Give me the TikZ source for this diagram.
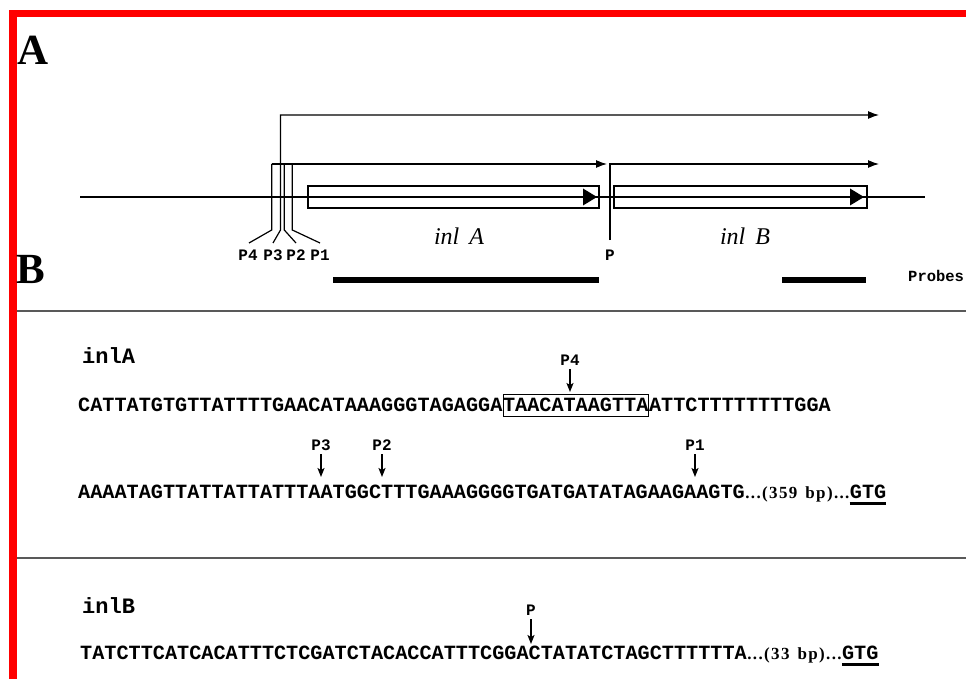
\documentclass[tikz,border=0pt]{standalone}
\usepackage{fontspec}
\setmainfont{Liberation Serif}
\newfontfamily\monofam{Liberation Mono}
\newfontfamily\midfam{Liberation Serif}[LetterSpace=8]
\usetikzlibrary{arrows.meta,calc}
\newcommand\seqfnt{\monofam\bfseries\fontsize{20.2}{24}\selectfont}
\newcommand\midfnt{\midfam\bfseries\fontsize{17}{19}\selectfont}
\newcommand\lblfnt{\monofam\bfseries\fontsize{16}{18}\selectfont}
\newcommand\namefnt{\monofam\bfseries\fontsize{22}{26}\selectfont}
\newcommand\probefnt{\monofam\bfseries\fontsize{15.5}{18}\selectfont}
\newcommand\genefnt{\itshape\fontsize{24}{28}\selectfont}
\newcommand\panelfnt{\bfseries\fontsize{43}{48}\selectfont}
\begin{document}
\begin{tikzpicture}[x=1pt,y=-1pt,
  panel/.style={font=\panelfnt, inner sep=0pt, anchor=base west},
  chrom/.style={line width=1.5pt},
  genebox/.style={draw, line width=2pt, inner sep=0pt},
  prom/.style={line width=1.2pt},
  promarr/.style={line width=1.2pt, -{Latex[length=11pt,width=8pt]}},
  plbl/.style={font=\lblfnt, inner sep=1pt, anchor=base},
  gene/.style={font=\genefnt, inner sep=0pt, anchor=base},
  sepline/.style={line width=1.8pt, black!65},
  seq/.style={font=\seqfnt, inner sep=0pt, anchor=base west},
  midseq/.style={font=\midfnt, inner sep=0pt, anchor=base west},
  seqname/.style={font=\namefnt, inner sep=0pt, anchor=base west},
  darr/.style={line width=1.4pt, -{Stealth[length=9pt,width=7pt,inset=2pt]}, shorten <=3pt},
  uline/.style={line width=2.2pt}
]
% canvas
\fill[white] (0,0) rectangle (966,679);
\useasboundingbox (0,0) rectangle (966,679);
% red frame
\fill[red] (9,10) rectangle (17,679);
\fill[red] (9,10) rectangle (966,17);

% panel letters
\node[panel] (lblA) at (17,65) {A};
\node[panel] (lblB) at (16,283) {B};

% ---------------- panel A ----------------
\coordinate (chrL) at (80,197);
\coordinate (chrR) at (925,197);
\draw[chrom] (chrL) -- (chrR);

\node[genebox, minimum width=291pt, minimum height=22pt] (boxA) at (453.5,197) {};
\node[genebox, minimum width=253pt, minimum height=22pt] (boxB) at (740.5,197) {};
\fill (583,188.5) -- (597,197) -- (583,205.5) -- cycle;
\fill (850,188.5) -- (864,197) -- (850,205.5) -- cycle;

% promoters P4..P1
\coordinate (p4top) at (271.7,164);
\coordinate (p4bot) at (271.7,230);
\coordinate (p4ft) at (249,243);
\coordinate (p3top) at (280.5,115);
\coordinate (p3bot) at (280.5,230);
\coordinate (p3ft) at (273,243);
\coordinate (p2top) at (284.3,164);
\coordinate (p2bot) at (284.3,230);
\coordinate (p2ft) at (296,243);
\coordinate (p1top) at (292.3,164);
\coordinate (p1bot) at (292.3,230);
\coordinate (p1ft) at (320,243);
\coordinate (longend) at (879,115);
\coordinate (shortend) at (607,164);
\draw[prom] (p4ft) -- (p4bot) -- (p4top);
\draw[prom] (p2ft) -- (p2bot) -- (p2top);
\draw[prom] (p1ft) -- (p1bot) -- (p1top);
\draw[promarr] (p3ft) -- (p3bot) -- (p3top) -- (longend);
\draw[promarr] (p4top) -- (shortend);

% inlB promoter P
\coordinate (pbot) at (610,240);
\coordinate (ptop) at (610,164);
\coordinate (pend) at (879,164);
\draw[promarr] (pbot) -- (ptop) -- (pend);

\node[plbl] (aP4) at (248,260) {P4};
\node[plbl] (aP3) at (273,260) {P3};
\node[plbl] (aP2) at (296,260) {P2};
\node[plbl] (aP1) at (320,260) {P1};
\node[plbl] (aP) at (610,260) {P};

\node[gene] (gA) at (459,244) {inl\hspace{10pt}A};
\node[gene] (gB) at (745,244) {inl\hspace{10pt}B};

% probes
\fill (333,277) rectangle (599,283);
\fill (782,277) rectangle (866,283);
\node[font=\probefnt, inner sep=0pt, anchor=base west] (probes) at (908,281) {Probes};

% separators
\coordinate (s1L) at (17,311); \coordinate (s1R) at (966,311);
\coordinate (s2L) at (17,558); \coordinate (s2R) at (966,558);
\draw[sepline] (s1L) -- (s1R);
\draw[sepline] (s2L) -- (s2R);

% ---------------- panel B : inlA ----------------
\node[seqname] (nA) at (82,363) {inlA};
\node[seq] (s1a) at (78,411) {CATTATGTGTTATTTTGAACATAAAGGGTAGAGGA};
\node[seq, draw, line width=0.7pt, inner ysep=5.5pt, text height=11.6pt, text depth=0pt] (s1b) at (s1a.base east) {TAACATAAGTTA};
\node[seq] (s1c) at (s1b.base east) {ATTCTTTTTTTTGGA};

\node[plbl] (bP4) at (570,365) {P4};
\coordinate (tP4) at (570,392);
\draw[darr] (bP4.south) -- (tP4);

\node[seq] (s2a) at (78,498) {AAAATAGTTATTATTATTTAATGGCTTTGAAAGGGGTGATGATATAGAAGAAGTG};
\node[midseq] (s2b) at (s2a.base east) {...(359\hspace{8pt}bp)...};
\node[seq] (s2c) at (s2b.base east) {GTG};
\draw[uline] ($(s2c.base west)+(0,5.5)$) -- ($(s2c.base east)+(0,5.5)$);

\node[plbl] (bP3) at (321,450) {P3};
\node[plbl] (bP2) at (382,450) {P2};
\node[plbl] (bP1) at (695,450) {P1};
\coordinate (tP3) at (321,477);
\coordinate (tP2) at (382,477);
\coordinate (tP1) at (695,477);
\draw[darr] (bP3.south) -- (tP3);
\draw[darr] (bP2.south) -- (tP2);
\draw[darr] (bP1.south) -- (tP1);

% ---------------- panel B : inlB ----------------
\node[seqname] (nB) at (82,613) {inlB};
\node[seq] (s3a) at (80,659) {TATCTTCATCACATTTCTCGATCTACACCATTTCGGACTATATCTAGCTTTTTTA};
\node[midseq] (s3b) at (s3a.base east) {...(33\hspace{8pt}bp)...};
\node[seq] (s3c) at (s3b.base east) {GTG};
\draw[uline] ($(s3c.base west)+(0,5.5)$) -- ($(s3c.base east)+(0,5.5)$);

\node[plbl] (bP) at (531,615) {P};
\coordinate (tP) at (531,644);
\draw[darr] (bP.south) -- (tP);
\end{tikzpicture}
\end{document}
